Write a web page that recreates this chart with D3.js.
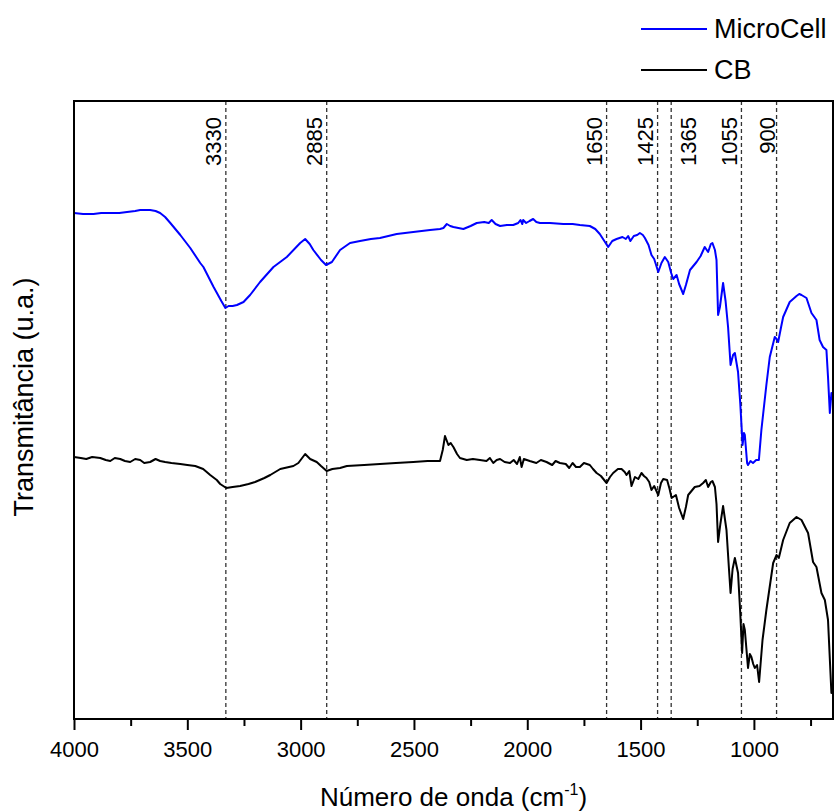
<!DOCTYPE html>
<html>
<head>
<meta charset="utf-8">
<script src="https://cdn.jsdelivr.net/npm/d3@7"></script>
<style>
  body { margin: 0; background: #fff; }
  svg text { font-family: Arial, "Liberation Sans", sans-serif; fill: #000; }
</style>
</head>
<body>
<div class="container"></div>
<script>
// FTIR spectra: [wavenumber (cm-1), transmittance (a.u.)]
const microcell = [
  [4000,50.6],[3960,50.5],[3914,50.5],[3880,50.6],[3840,50.6],[3800,50.6],[3766,50.7],[3730,50.8],
  [3708,50.9],[3664,50.9],[3640,50.8],[3620,50.6],[3598,50.2],[3575,49.6],[3531,48.4],[3487,47.1],
  [3443,45.6],[3429,45.2],[3384,43.2],[3350,41.8],[3332,41.1],[3318,41.3],[3300,41.3],[3281,41.4],
  [3252,41.7],[3223,42.4],[3179,43.7],[3120,45.2],[3061,46.2],[3002,47.6],[2980,48.0],[2960,47.5],
  [2944,46.9],[2910,45.9],[2888,45.4],[2862,45.7],[2826,46.9],[2782,47.6],[2738,47.8],[2690,48.0],
  [2650,48.1],[2576,48.5],[2503,48.7],[2429,48.9],[2385,49.0],[2370,49.1],[2355,49.5],[2340,49.3],
  [2326,49.2],[2282,49.0],[2250,49.3],[2223,49.6],[2190,49.7],[2170,49.6],[2157,49.9],[2140,49.5],
  [2120,49.3],[2090,49.4],[2062,49.4],[2040,49.6],[2030,49.9],[2022,49.5],[2018,49.9],[2005,49.6],
  [1990,49.8],[1974,50.0],[1960,49.7],[1944,49.6],[1900,49.6],[1841,49.5],[1800,49.5],[1768,49.4],
  [1724,49.3],[1700,49.0],[1680,48.5],[1660,47.8],[1643,47.2],[1625,47.8],[1606,48.0],[1580,48.2],
  [1565,48.0],[1555,48.3],[1545,47.8],[1530,48.3],[1515,48.4],[1503,48.6],[1490,48.4],[1481,48.1],
  [1465,47.4],[1452,46.4],[1440,46.0],[1422,44.7],[1408,45.6],[1393,46.2],[1378,45.7],[1365,44.6],
  [1356,44.0],[1341,44.4],[1330,43.5],[1312,42.5],[1300,43.4],[1282,44.9],[1253,45.7],[1235,46.3],
  [1217,47.2],[1202,46.7],[1190,47.5],[1183,47.6],[1172,46.9],[1165,45.9],[1158,40.4],[1150,41.2],
  [1136,43.6],[1125,41.8],[1114,39.2],[1103,35.4],[1092,36.4],[1084,36.6],[1070,34.7],[1060,31.5],
  [1050,27.4],[1044,28.6],[1040,28.4],[1030,25.6],[1026,25.4],[1015,25.8],[1004,25.6],[990,25.9],
  [978,25.9],[967,28.9],[945,33.4],[930,36.2],[908,38.2],[900,38.0],[893,37.7],[880,39.2],
  [871,40.2],[842,41.7],[812,42.3],[800,42.5],[790,42.4],[768,42.1],[746,40.6],[724,39.9],
  [710,37.9],[695,37.2],[680,36.9],[673,34.2],[665,30.6],[658,32.6],[651,31.9]
];
const cb = [
  [4000,26.2],[3970,26.1],[3946,26.0],[3920,26.2],[3884,26.1],[3860,25.9],[3840,25.8],[3820,26.1],
  [3796,26.0],[3775,25.8],[3752,25.7],[3730,26.0],[3708,25.9],[3690,25.6],[3664,25.7],[3640,26.0],
  [3620,25.8],[3598,25.7],[3570,25.6],[3531,25.5],[3500,25.4],[3465,25.3],[3430,25.0],[3399,24.4],
  [3370,23.9],[3355,23.5],[3328,23.1],[3300,23.2],[3267,23.3],[3230,23.5],[3201,23.7],[3160,24.1],
  [3134,24.4],[3090,25.0],[3032,25.3],[3010,25.6],[2980,26.5],[2958,26.0],[2929,25.7],[2910,25.3],
  [2885,24.8],[2860,25.0],[2826,25.1],[2796,25.3],[2720,25.4],[2650,25.5],[2580,25.6],[2503,25.7],
  [2440,25.8],[2385,25.8],[2373,26.9],[2363,28.3],[2348,27.4],[2338,27.6],[2326,27.2],[2310,26.5],
  [2297,26.1],[2267,25.9],[2240,26.0],[2209,25.9],[2180,25.8],[2165,26.1],[2150,25.6],[2135,25.9],
  [2120,26.0],[2100,25.7],[2076,25.6],[2060,25.9],[2045,25.5],[2033,26.2],[2025,25.2],[2015,26.0],
  [1989,25.8],[1960,25.6],[1940,25.9],[1915,25.7],[1890,25.4],[1875,25.8],[1856,25.6],[1830,25.5],
  [1815,25.1],[1800,25.6],[1785,25.2],[1768,25.2],[1750,25.6],[1724,25.4],[1710,25.0],[1694,24.6],
  [1675,24.3],[1650,23.6],[1635,24.2],[1621,24.6],[1600,25.0],[1584,25.0],[1570,24.7],[1562,24.4],
  [1550,24.8],[1540,23.3],[1525,24.2],[1510,24.0],[1496,24.6],[1485,24.3],[1474,24.1],[1462,23.7],
  [1452,22.9],[1440,23.3],[1422,22.4],[1410,23.6],[1400,24.0],[1383,23.9],[1372,23.0],[1363,22.1],
  [1344,22.4],[1330,21.1],[1312,20.0],[1300,21.2],[1290,22.4],[1261,23.2],[1240,23.3],[1224,23.6],
  [1212,23.9],[1202,23.2],[1190,23.7],[1183,23.8],[1172,23.2],[1165,21.5],[1158,17.7],[1148,19.5],
  [1136,21.3],[1121,18.9],[1110,15.0],[1103,12.6],[1094,15.0],[1084,16.1],[1070,14.6],[1060,10.5],
  [1052,6.6],[1046,9.5],[1040,8.9],[1026,5.1],[1018,6.5],[1011,6.2],[1003,5.5],[996,5.1],
  [986,5.4],[977,3.7],[962,7.9],[945,10.9],[915,15.6],[900,16.4],[890,16.1],[871,17.9],
  [842,19.6],[812,20.2],[790,19.9],[761,18.6],[739,15.7],[724,15.2],[702,12.6],[687,11.9],
  [673,9.9],[665,6.0],[658,2.6],[651,3.2]
];
const peaks = [3330, 2885, 1650, 1425, 1365, 1055, 900];
const majorTicks = [4000, 3500, 3000, 2500, 2000, 1500, 1000];
const minorTicks = [3750, 3250, 2750, 2250, 1750, 1250, 750];
const seriesNames = ["MicroCell", "CB"];
const seriesColors = ["#0000ff", "#000000"];

const margin = ({top: 101, right: 1, bottom: 93, left: 74});
const width = 834 - margin.left - margin.right,
      height = 812 - margin.top - margin.bottom;

const root = d3.select(".container")
               .append("svg")
               .attr("width", width + margin.left + margin.right)
               .attr("height", height + margin.top + margin.bottom);
const svg = root.append("g")
                .attr("transform", "translate(" + margin.left + "," + margin.top + ")");

const xScale = d3.scaleLinear()
                 .domain([4000, 651])
                 .range([0, width]);
const yScale = d3.scaleLinear()
                 .domain([0, 61.8])
                 .range([height, 0]);

// peak markers
const peakG = svg.selectAll(".peak")
                 .data(peaks)
                 .enter().append("g")
                 .attr("class", "peak");
peakG.append("line")
     .attr("x1", d => xScale(d))
     .attr("x2", d => xScale(d))
     .attr("y1", 0)
     .attr("y2", height)
     .attr("stroke", "#333")
     .attr("stroke-width", 1.3)
     .attr("stroke-dasharray", "4,3");
peakG.append("text")
     .attr("transform", d => `translate(${xScale(d) + (d === 1365 ? 25 : d === 900 ? -2 : -4.5)},16) rotate(-90)`)
     .attr("text-anchor", "end")
     .attr("font-size", 22)
     .text(d => d);

// spectra
const line = d3.line()
               .x(d => xScale(d[0]))
               .y(d => yScale(d[1]));
[microcell, cb].forEach((s, i) => {
    svg.append("path")
       .datum(s)
       .attr("fill", "none")
       .attr("stroke", seriesColors[i])
       .attr("stroke-width", 2)
       .attr("stroke-linejoin", "round")
       .attr("d", line);
});

// frame
svg.append("rect")
   .attr("width", width)
   .attr("height", height)
   .attr("fill", "none")
   .attr("stroke", "black")
   .attr("stroke-width", 2);

// x axis
const xAxis = d3.axisBottom(xScale)
                .tickValues(majorTicks)
                .tickSize(11)
                .tickPadding(11)
                .tickFormat(d3.format("d"));
const xMinor = d3.axisBottom(xScale)
                 .tickValues(minorTicks)
                 .tickSize(7)
                 .tickFormat("");
svg.append("g")
   .attr("transform", `translate(0, ${height})`)
   .call(xMinor)
   .call(g => g.select(".domain").remove())
   .call(g => g.selectAll(".tick line").attr("stroke-width", 2));
svg.append("g")
   .attr("transform", `translate(0, ${height})`)
   .call(xAxis)
   .call(g => g.select(".domain").remove())
   .call(g => g.selectAll(".tick line").attr("stroke-width", 2))
   .call(g => g.selectAll(".tick text").attr("font-size", 22).attr("font-family", null).attr("fill", "#000"));

// axis titles
const xTitle = root.append("text")
                   .attr("x", margin.left + width / 2)
                   .attr("y", 806)
                   .attr("text-anchor", "middle")
                   .attr("font-size", 26);
xTitle.append("tspan").text("Número de onda (cm");
xTitle.append("tspan").attr("dy", -11).attr("font-size", 16).text("-1");
xTitle.append("tspan").attr("dy", 11).text(")");

root.append("text")
    .attr("transform", "translate(33,397) rotate(-90)")
    .attr("text-anchor", "middle")
    .attr("font-size", 27)
    .text("Transmitância (u.a.)");

// legend
const legend = root.selectAll(".legend")
                   .data(seriesNames)
                   .enter().append("g")
                   .attr("class", "legend")
                   .attr("transform", (d, i) => `translate(641, ${29 + i * 41})`);
legend.append("line")
      .attr("x1", 0)
      .attr("x2", 66)
      .attr("stroke", (d, i) => seriesColors[i])
      .attr("stroke-width", 2);
legend.append("text")
      .attr("x", 73)
      .attr("y", 8.5)
      .attr("font-size", 27)
      .text(d => d);
</script>
</body>
</html>
